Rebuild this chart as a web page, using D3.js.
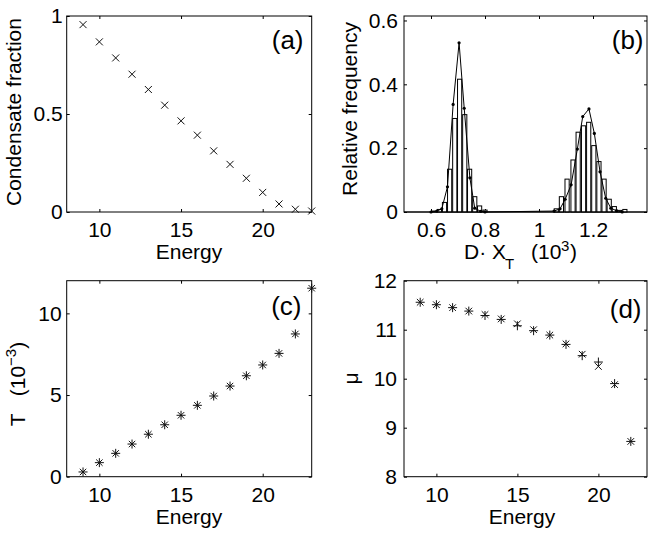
<!DOCTYPE html>
<html><head><meta charset="utf-8">
<script src="https://cdn.jsdelivr.net/npm/d3@7"></script>
<style>
body{margin:0;background:#fff;}
svg{display:block;font-family:"Liberation Sans",Arial,Helvetica,sans-serif;}
</style></head><body>
<svg id="fig" width="654" height="536"></svg>
<script>
// ---------- data ----------
const energyA = [9,10,11,12,13,14,15,16,17,18,19,20,21,22,23];
const condensateFraction = [0.956,0.868,0.786,0.703,0.625,0.545,0.465,0.392,0.312,0.243,0.172,0.100,0.041,0.014,0.005];

const histBinX = [0.612,0.631,0.650,0.669,0.688,0.706,0.725,0.743,0.762,0.780,0.800,
                  1.064,1.083,1.104,1.126,1.145,1.165,1.184,1.203,1.222,1.241,1.260,1.279,1.298,1.318];
const histFreq = [0.003,0.008,0.030,0.134,0.293,0.416,0.305,0.134,0.048,0.019,0.006,
                  0.010,0.048,0.103,0.163,0.250,0.270,0.281,0.208,0.158,0.103,0.040,0.017,0.005,0.008];
const curveX = [0.600,0.622,0.640,0.661,0.682,0.704,0.723,0.744,0.762,0.784,0.800,
                1.056,1.078,1.097,1.119,1.142,1.162,1.185,1.205,1.226,1.247,1.266,1.287,1.308];
const curveY = [0.000,0.003,0.010,0.079,0.337,0.530,0.325,0.107,0.012,0.002,0.000,
                0.003,0.010,0.040,0.085,0.197,0.299,0.323,0.246,0.126,0.043,0.012,0.004,0.000];

const energyC = [9,10,11,12,13,14,15,16,17,18,19,20,21,22,23];
const temperature = [0.29,0.86,1.43,2.00,2.60,3.18,3.76,4.37,4.94,5.55,6.18,6.84,7.55,8.74,11.54];

const energyD = [9,10,11,12,13,14,15,16,17,18,19,20,21,22];
const muPlus  = [11.56,11.51,11.45,11.38,11.29,11.21,11.08,10.98,10.89,10.70,10.47,10.34,9.90,8.72];
const muCross = [11.56,11.51,11.45,11.38,11.31,11.22,11.12,11.00,10.89,10.71,10.50,10.25,9.88,8.72];

const energyTicks = [10,15,20];
const ticksAy = [0,0.5,1];
const ticksBx = [0.6,0.8,1,1.2];
const ticksBy = [0,0.2,0.4,0.6];
const ticksCy = [0,5,10];
const ticksDy = [8,9,10,11,12];

// ---------- drawing ----------
const svg = d3.select('#fig');
const FS = 21;

function panel(box, xDom, yDom, xt, yt, padX, padY) {
  const x = d3.scaleLinear().domain(xDom).range([box.x0, box.x1]);
  const y = d3.scaleLinear().domain(yDom).range([box.y1, box.y0]);
  const g = svg.append('g');
  const styleAxis = sel => {
    sel.select('.domain').remove();
    sel.selectAll('.tick line').attr('stroke', '#000').attr('stroke-width', 1);
    sel.selectAll('text').attr('font-size', FS).attr('font-family', '"Liberation Sans",Arial,sans-serif').attr('fill', '#000');
    sel.attr('font-family', null).attr('font-size', null);
  };
  g.append('g').attr('transform', `translate(0,${box.y1})`)
    .call(d3.axisBottom(x).tickValues(xt).tickSizeInner(-3).tickSizeOuter(0).tickPadding(padX).tickFormat(d => String(d)))
    .call(styleAxis);
  g.append('g').attr('transform', `translate(0,${box.y0})`)
    .call(d3.axisTop(x).tickValues(xt).tickSizeInner(-3).tickSizeOuter(0).tickFormat(''))
    .call(styleAxis);
  g.append('g').attr('transform', `translate(${box.x0},0)`)
    .call(d3.axisLeft(y).tickValues(yt).tickSizeInner(-3).tickSizeOuter(0).tickPadding(padY).tickFormat(d => String(d)))
    .call(styleAxis);
  g.append('g').attr('transform', `translate(${box.x1},0)`)
    .call(d3.axisRight(y).tickValues(yt).tickSizeInner(-3).tickSizeOuter(0).tickFormat(''))
    .call(styleAxis);
  g.append('rect').attr('x', box.x0).attr('y', box.y0)
    .attr('width', box.x1 - box.x0).attr('height', box.y1 - box.y0)
    .attr('fill', 'none').attr('stroke', '#000').attr('stroke-width', 1);
  return {x, y, g};
}

function label(txt, x, y, opts = {}) {
  const t = svg.append('text').attr('x', x).attr('y', y)
    .attr('font-size', opts.size || FS).attr('fill', '#000')
    .attr('text-anchor', opts.anchor || 'middle')
    .style('white-space', 'pre');
  if (opts.rotate) t.attr('transform', `rotate(-90,${x},${y})`);
  t.text(txt);
  return t;
}

const crossPath = 'M-3.5,-3.5L3.5,3.5M-3.5,3.5L3.5,-3.5';
const plusPath = 'M-4.5,0H4.5M0,-4.5V4.5';
const starPath = 'M-4.5,0H4.5M0,-4.5V4.5M-3.2,-3.2L3.2,3.2M-3.2,3.2L3.2,-3.2';

// (a)
const A = panel({x0:66.7, x1:311.7, y0:16, y1:212}, [8,23], [0,1], energyTicks, ticksAy, 10, 4);
A.g.selectAll('path.mk').data(energyA).join('path').attr('class','mk')
  .attr('transform', (d,i) => `translate(${A.x(d)},${A.y(condensateFraction[i])})`)
  .attr('d', crossPath).attr('stroke', '#111').attr('stroke-width', 1).attr('fill', 'none');
label('Energy', 189, 259);
label('Condensate fraction', 20.5, 112, {rotate:true});
label('(a)', 303.5, 49, {anchor:'end', size:26});

// (b)
const B = panel({x0:404, x1:647, y0:16, y1:212}, [0.5,1.4], [0,0.614], ticksBx, ticksBy, 10, 6);
const bw = 0.0155;
B.g.selectAll('rect.bar').data(histBinX).join('rect').attr('class','bar')
  .attr('x', d => B.x(d - bw/2)).attr('width', d => B.x(d + bw/2) - B.x(d - bw/2))
  .attr('y', (d,i) => B.y(histFreq[i])).attr('height', (d,i) => B.y(0) - B.y(histFreq[i]))
  .attr('fill', '#fff').attr('stroke', '#000').attr('stroke-width', 1);
const curvePts = curveX.map((d,i) => [d, curveY[i]]);
B.g.append('path').datum(curvePts)
  .attr('d', d3.line().x(d => B.x(d[0])).y(d => B.y(d[1])))
  .attr('fill', 'none').attr('stroke', '#000').attr('stroke-width', 1);
B.g.selectAll('circle.dot').data(curvePts).join('circle').attr('class','dot')
  .attr('cx', d => B.x(d[0])).attr('cy', d => B.y(d[1])).attr('r', 1.6).attr('fill', '#000');
B.g.append('line').attr('x1', 404).attr('x2', 647).attr('y1', 212).attr('y2', 212).attr('stroke', '#000');
// x label of (b): pieces as separate texts
label('D· X', 506, 259, {anchor:'end'});
label('T', 505, 269, {anchor:'start', size:15});
label('(10', 531, 259, {anchor:'start'});
label('3', 561, 251, {anchor:'start', size:15});
label(')', 570, 259, {anchor:'start'});
label('Relative frequency', 356.5, 109, {rotate:true});
label('(b)', 643.5, 49, {anchor:'end', size:26});

// (c)
const C = panel({x0:66.7, x1:311.7, y0:280.7, y1:476.7}, [8,23], [0,12], energyTicks, ticksCy, 10, 5);
C.g.selectAll('path.mk').data(energyC).join('path').attr('class','mk')
  .attr('transform', (d,i) => `translate(${C.x(d)},${C.y(temperature[i])})`)
  .attr('d', starPath).attr('stroke', '#111').attr('stroke-width', 1).attr('fill', 'none');
label('Energy', 189, 523.5);
{
  const x = 25, y = 384;
  const t = svg.append('text').attr('x', x).attr('y', y).attr('font-size', FS)
    .attr('text-anchor', 'middle').style('white-space', 'pre')
    .attr('transform', `rotate(-90,${x},${y})`);
  t.append('tspan').text('T   (10');
  t.append('tspan').attr('font-size', 15).attr('dy', -9).text('−3');
  t.append('tspan').attr('dy', 9).text(')');
}
label('(c)', 301.5, 314.5, {anchor:'end', size:26});

// (d)
const D = panel({x0:404, x1:647, y0:280.7, y1:476.7}, [8,23], [8,12], energyTicks, ticksDy, 10, 7);
D.g.selectAll('path.pl').data(energyD).join('path').attr('class','pl')
  .attr('transform', (d,i) => `translate(${D.x(d)},${D.y(muPlus[i])})`)
  .attr('d', plusPath).attr('stroke', '#111').attr('stroke-width', 1).attr('fill', 'none');
D.g.selectAll('path.cr').data(energyD).join('path').attr('class','cr')
  .attr('transform', (d,i) => `translate(${D.x(d)},${D.y(muCross[i])})`)
  .attr('d', 'M-3.3,-3.3L3.3,3.3M-3.3,3.3L3.3,-3.3').attr('stroke', '#111').attr('stroke-width', 1).attr('fill', 'none');
label('Energy', 522, 523.5);
label('μ', 358, 378.5, {rotate:true});
label('(d)', 641.5, 318, {anchor:'end', size:26});
</script>
</body></html>
